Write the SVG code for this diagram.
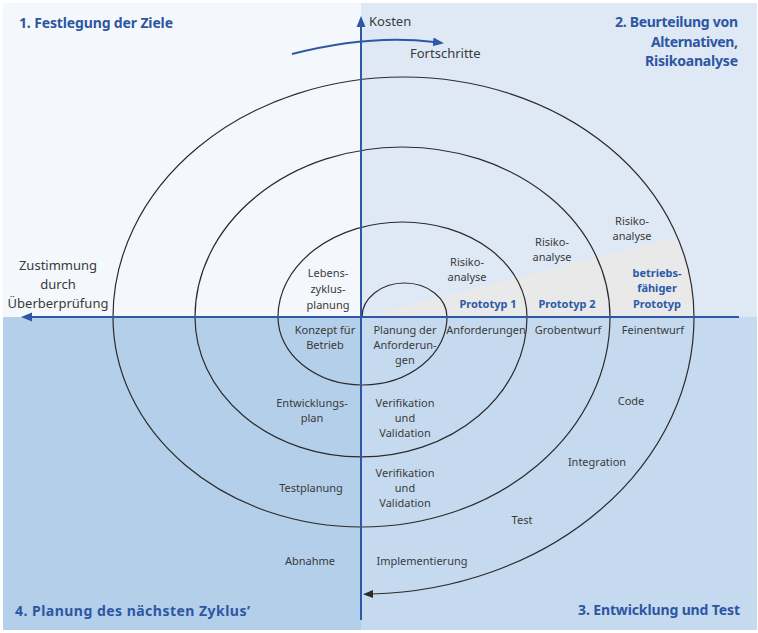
<svg xmlns="http://www.w3.org/2000/svg" width="758" height="633" viewBox="0 0 758 633">
<defs>
<style>
.lbl{font-family:"Noto Sans","Open Sans",sans-serif;font-size:11px;fill:#3a3a3a;text-anchor:middle}
.big{font-family:"Noto Sans","Open Sans",sans-serif;font-size:13px;fill:#3a3a3a}
.hd{font-family:"Noto Sans","Open Sans",sans-serif;font-size:14px;font-weight:bold;fill:#2d56a2}
.pt{font-family:"Noto Sans","Open Sans",sans-serif;font-size:11px;font-weight:bold;fill:#2d5aa8;text-anchor:middle}
.axis{stroke:#2c58a6;stroke-width:2;fill:none}
.spiral{stroke:#2b2b2b;stroke-width:1.2;fill:none}
</style>
<marker id="ab" markerUnits="userSpaceOnUse" markerWidth="12" markerHeight="10" refX="1" refY="5" orient="auto">
<path d="M0,0.5 L11,5 L0,9.5 z" fill="#2c58a6"/>
</marker>
<marker id="ak" markerUnits="userSpaceOnUse" markerWidth="12" markerHeight="10" refX="1" refY="5" orient="auto">
<path d="M0,1 L10,5 L0,9 z" fill="#2b2b2b"/>
</marker>
</defs>
<g id="background">
<rect x="3" y="3" width="358" height="314" fill="#f4f8fc"/>
<rect x="361" y="3" width="396" height="314" fill="#dfe9f5"/>
<rect x="3" y="317" width="358" height="313" fill="#b4cfe9"/>
<rect x="361" y="317" width="396" height="313" fill="#c5daef"/>
<path d="M362,317 L677.5,237 A290.5,240 0 0 1 694,317 Z" fill="#e9e9e9"/>
</g>
<g id="connectors">
<path id="spiral" class="spiral" marker-end="url(#ak)" d="M362,317 A42.5,34 0 0 1 447,317 A84.5,68 0 0 1 278,317 A124.5,95 0 0 1 527,317 A166,140 0 0 1 195,317 A207.5,170 0 0 1 610,317 A248.5,210 0 0 1 113,317 A290.5,240 0 0 1 694,317 A333,277 0 0 1 372,594"/>
<path id="axis-v" class="axis" marker-end="url(#ab)" d="M361,620 L361,26"/>
<path id="axis-h" class="axis" marker-end="url(#ab)" d="M739,317 L31,317"/>
<path id="progress" class="axis" stroke-width="1.6" marker-end="url(#ab)" d="M292,54 Q370,34 434,42"/>
</g>
<g id="headings">
<text class="hd" x="19" y="28" textLength="154">1. Festlegung der Ziele</text>
<text class="hd" x="738" y="27" text-anchor="end" textLength="123">2. Beurteilung von</text>
<text class="hd" x="738" y="47" text-anchor="end" textLength="87">Alternativen,</text>
<text class="hd" x="738" y="66" text-anchor="end" textLength="93">Risikoanalyse</text>
<text class="hd" x="740" y="615" text-anchor="end" textLength="162">3. Entwicklung und Test</text>
<text class="hd" x="15" y="616" textLength="235">4. Planung des nächsten Zyklus’</text>
</g>
<g id="axis-labels">
<text class="big" x="369" y="26">Kosten</text>
<text class="big" x="410" y="58">Fortschritte</text>
<text class="big" x="58" y="270" text-anchor="middle">Zustimmung</text>
<text class="big" x="58" y="289" text-anchor="middle">durch</text>
<text class="big" x="58" y="308" text-anchor="middle">Überberprüfung</text>
</g>
<g id="n-lebens"><text class="lbl" x="328" y="277">Lebens-</text><text class="lbl" x="328" y="293">zyklus-</text><text class="lbl" x="328" y="309">planung</text></g>
<g id="n-risiko1"><text class="lbl" x="467" y="266">Risiko-</text><text class="lbl" x="467" y="281">analyse</text></g>
<g id="n-proto1"><text class="pt" x="488" y="308">Prototyp 1</text></g>
<g id="n-risiko2"><text class="lbl" x="552" y="246">Risiko-</text><text class="lbl" x="552" y="261">analyse</text></g>
<g id="n-proto2"><text class="pt" x="567" y="308">Prototyp 2</text></g>
<g id="n-risiko3"><text class="lbl" x="632" y="225">Risiko-</text><text class="lbl" x="632" y="240">analyse</text></g>
<g id="n-proto3"><text class="pt" x="657" y="277">betriebs-</text><text class="pt" x="657" y="292">fähiger</text><text class="pt" x="657" y="308">Prototyp</text></g>
<g id="n-konzept"><text class="lbl" x="325" y="334">Konzept für</text><text class="lbl" x="325" y="349">Betrieb</text></g>
<g id="n-planung"><text class="lbl" x="405" y="334">Planung der</text><text class="lbl" x="405" y="349">Anforderun-</text><text class="lbl" x="405" y="364">gen</text></g>
<g id="n-anforderungen"><text class="lbl" x="486" y="334">Anforderungen</text></g>
<g id="n-grobentwurf"><text class="lbl" x="568" y="334">Grobentwurf</text></g>
<g id="n-feinentwurf"><text class="lbl" x="653" y="334">Feinentwurf</text></g>
<g id="n-entwicklungsplan"><text class="lbl" x="312" y="407">Entwicklungs-</text><text class="lbl" x="312" y="422">plan</text></g>
<g id="n-vv1"><text class="lbl" x="405" y="407">Verifikation</text><text class="lbl" x="405" y="422">und</text><text class="lbl" x="405" y="437">Validation</text></g>
<g id="n-code"><text class="lbl" x="631" y="405">Code</text></g>
<g id="n-testplanung"><text class="lbl" x="311" y="492">Testplanung</text></g>
<g id="n-vv2"><text class="lbl" x="405" y="477">Verifikation</text><text class="lbl" x="405" y="492">und</text><text class="lbl" x="405" y="507">Validation</text></g>
<g id="n-integration"><text class="lbl" x="597" y="466">Integration</text></g>
<g id="n-test"><text class="lbl" x="522" y="524">Test</text></g>
<g id="n-abnahme"><text class="lbl" x="310" y="565">Abnahme</text></g>
<g id="n-implementierung"><text class="lbl" x="422" y="565">Implementierung</text></g>
</svg>
